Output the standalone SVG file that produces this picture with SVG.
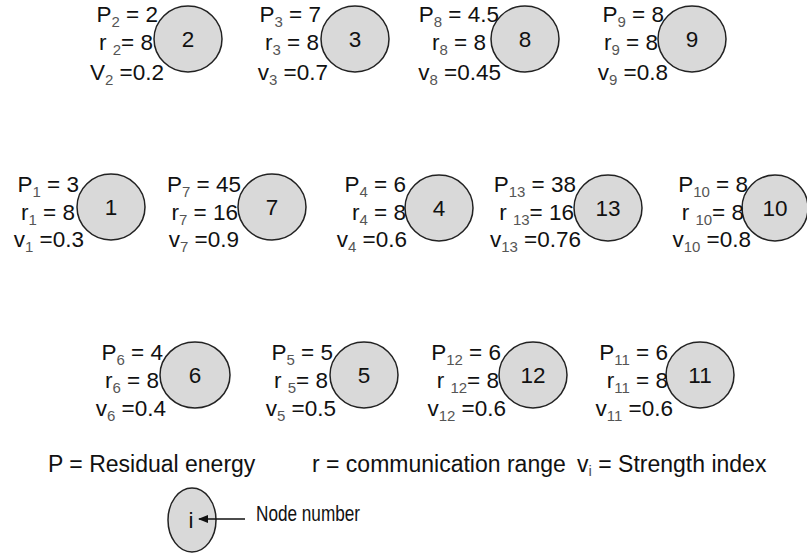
<svg xmlns="http://www.w3.org/2000/svg" width="807" height="556" viewBox="0 0 807 556">
<style>
.n{fill:#d9d9d9;stroke:#222;stroke-width:1.5}
.t{font-family:"Liberation Sans",Arial,sans-serif;font-size:22.5px;fill:#111}
.c{text-anchor:middle}
.e{text-anchor:end}
.s{font-size:15px;fill:#555}
.lg{font-family:"Liberation Sans",Arial,sans-serif;font-size:23px;fill:#111}
.nn{font-family:"Liberation Sans",Arial,sans-serif;font-size:22px;fill:#111}
</style>
<defs>
<marker id="ah" markerWidth="10" markerHeight="8" refX="9" refY="4" orient="auto" markerUnits="userSpaceOnUse">
<path d="M0,0 L10,4 L0,8 Z" fill="#111"/>
</marker>
</defs>
<rect width="807" height="556" fill="#fff"/>

<g id="node2">
<ellipse class="n" cx="188" cy="39" rx="34" ry="33"/>
<text class="t c" x="188" y="47">2</text>
<text class="t e" x="158" y="22">P<tspan class="s" dy="5">2</tspan><tspan dy="-5"> = 2</tspan></text>
<text class="t e" x="153" y="50">r <tspan class="s" dy="5">2</tspan><tspan dy="-5">= 8</tspan></text>
<text class="t e" x="164" y="80">V<tspan class="s" dy="5">2</tspan><tspan dy="-5"> =0.2</tspan></text>
</g>
<g id="node3">
<ellipse class="n" cx="355" cy="39" rx="34" ry="33"/>
<text class="t c" x="355" y="47">3</text>
<text class="t e" x="321" y="22">P<tspan class="s" dy="5">3</tspan><tspan dy="-5"> = 7</tspan></text>
<text class="t e" x="319" y="50">r<tspan class="s" dy="5">3</tspan><tspan dy="-5"> = 8</tspan></text>
<text class="t e" x="328" y="80">v<tspan class="s" dy="5">3</tspan><tspan dy="-5"> =0.7</tspan></text>
</g>
<g id="node8">
<ellipse class="n" cx="525" cy="39" rx="34" ry="33"/>
<text class="t c" x="525" y="47">8</text>
<text class="t e" x="499" y="22">P<tspan class="s" dy="5">8</tspan><tspan dy="-5"> = 4.5</tspan></text>
<text class="t e" x="486" y="50">r<tspan class="s" dy="5">8</tspan><tspan dy="-5"> = 8</tspan></text>
<text class="t e" x="501" y="80">v<tspan class="s" dy="5">8</tspan><tspan dy="-5"> =0.45</tspan></text>
</g>
<g id="node9">
<ellipse class="n" cx="692" cy="39" rx="34" ry="33"/>
<text class="t c" x="692" y="47">9</text>
<text class="t e" x="664" y="22">P<tspan class="s" dy="5">9</tspan><tspan dy="-5"> = 8</tspan></text>
<text class="t e" x="658" y="50">r<tspan class="s" dy="5">9</tspan><tspan dy="-5"> = 8</tspan></text>
<text class="t e" x="668" y="80">v<tspan class="s" dy="5">9</tspan><tspan dy="-5"> =0.8</tspan></text>
</g>

<g id="node1">
<ellipse class="n" cx="111" cy="207" rx="34" ry="33"/>
<text class="t c" x="111" y="215">1</text>
<text class="t e" x="79" y="192">P<tspan class="s" dy="5">1</tspan><tspan dy="-5"> = 3</tspan></text>
<text class="t e" x="75" y="220">r<tspan class="s" dy="5">1</tspan><tspan dy="-5"> = 8</tspan></text>
<text class="t e" x="84" y="247">v<tspan class="s" dy="5">1</tspan><tspan dy="-5"> =0.3</tspan></text>
</g>
<g id="node7">
<ellipse class="n" cx="272" cy="207" rx="34" ry="33"/>
<text class="t c" x="272" y="215">7</text>
<text class="t e" x="241" y="192">P<tspan class="s" dy="5">7</tspan><tspan dy="-5"> = 45</tspan></text>
<text class="t e" x="238" y="220">r<tspan class="s" dy="5">7</tspan><tspan dy="-5"> = 16</tspan></text>
<text class="t e" x="239" y="247">v<tspan class="s" dy="5">7</tspan><tspan dy="-5"> =0.9</tspan></text>
</g>
<g id="node4">
<ellipse class="n" cx="439" cy="208" rx="34" ry="33"/>
<text class="t c" x="439" y="216">4</text>
<text class="t e" x="406" y="192">P<tspan class="s" dy="5">4</tspan><tspan dy="-5"> = 6</tspan></text>
<text class="t e" x="406" y="220">r<tspan class="s" dy="5">4</tspan><tspan dy="-5"> = 8</tspan></text>
<text class="t e" x="407" y="247">v<tspan class="s" dy="5">4</tspan><tspan dy="-5"> =0.6</tspan></text>
</g>
<g id="node13">
<ellipse class="n" cx="608" cy="208" rx="34" ry="33"/>
<text class="t c" x="608" y="216">13</text>
<text class="t e" x="576" y="192">P<tspan class="s" dy="5">13</tspan><tspan dy="-5"> = 38</tspan></text>
<text class="t e" x="574" y="220">r <tspan class="s" dy="5">13</tspan><tspan dy="-5">= 16</tspan></text>
<text class="t e" x="581" y="247">v<tspan class="s" dy="5">13</tspan><tspan dy="-5"> =0.76</tspan></text>
</g>
<g id="node10">
<ellipse class="n" cx="775" cy="208" rx="33" ry="33"/>
<text class="t c" x="775" y="216">10</text>
<text class="t e" x="748" y="192">P<tspan class="s" dy="5">10</tspan><tspan dy="-5"> = 8</tspan></text>
<text class="t e" x="744" y="220">r <tspan class="s" dy="5">10</tspan><tspan dy="-5">= 8</tspan></text>
<text class="t e" x="751" y="247">v<tspan class="s" dy="5">10</tspan><tspan dy="-5"> =0.8</tspan></text>
</g>

<g id="node6">
<ellipse class="n" cx="195" cy="375" rx="35" ry="33"/>
<text class="t c" x="195" y="383">6</text>
<text class="t e" x="163" y="360">P<tspan class="s" dy="5">6</tspan><tspan dy="-5"> = 4</tspan></text>
<text class="t e" x="159" y="388">r<tspan class="s" dy="5">6</tspan><tspan dy="-5"> = 8</tspan></text>
<text class="t e" x="166" y="416">v<tspan class="s" dy="5">6</tspan><tspan dy="-5"> =0.4</tspan></text>
</g>
<g id="node5">
<ellipse class="n" cx="364" cy="375" rx="34" ry="33"/>
<text class="t c" x="364" y="383">5</text>
<text class="t e" x="333" y="360">P<tspan class="s" dy="5">5</tspan><tspan dy="-5"> = 5</tspan></text>
<text class="t e" x="328" y="388">r <tspan class="s" dy="5">5</tspan><tspan dy="-5">= 8</tspan></text>
<text class="t e" x="336" y="416">v<tspan class="s" dy="5">5</tspan><tspan dy="-5"> =0.5</tspan></text>
</g>
<g id="node12">
<ellipse class="n" cx="533" cy="375" rx="34" ry="33"/>
<text class="t c" x="533" y="383">12</text>
<text class="t e" x="501" y="360">P<tspan class="s" dy="5">12</tspan><tspan dy="-5"> = 6</tspan></text>
<text class="t e" x="499" y="388">r <tspan class="s" dy="5">12</tspan><tspan dy="-5">= 8</tspan></text>
<text class="t e" x="506" y="416">v<tspan class="s" dy="5">12</tspan><tspan dy="-5"> =0.6</tspan></text>
</g>
<g id="node11">
<ellipse class="n" cx="700" cy="375" rx="34" ry="33"/>
<text class="t c" x="700" y="383">11</text>
<text class="t e" x="668" y="360">P<tspan class="s" dy="5">11</tspan><tspan dy="-5"> = 6</tspan></text>
<text class="t e" x="668" y="388">r<tspan class="s" dy="5">11</tspan><tspan dy="-5"> = 8</tspan></text>
<text class="t e" x="673" y="416">v<tspan class="s" dy="5">11</tspan><tspan dy="-5"> =0.6</tspan></text>
</g>

<g id="legend">
<text class="lg" x="48" y="472">P = Residual energy</text>
<text class="lg" x="312" y="472">r = communication range</text>
<text class="lg" x="577" y="472">v<tspan class="s" dy="4">i</tspan><tspan dy="-4"> = Strength index</tspan></text>
</g>
<g id="legend-node">
<ellipse class="n" cx="192" cy="520" rx="24" ry="32"/>
<text class="t c" x="191" y="528">i</text>
<text class="nn" x="256" y="521" textLength="104" lengthAdjust="spacingAndGlyphs">Node number</text>
</g>
<g id="connectors">
<line x1="245" y1="519" x2="199" y2="519" stroke="#111" stroke-width="1.5" marker-end="url(#ah)"/>
</g>
</svg>
